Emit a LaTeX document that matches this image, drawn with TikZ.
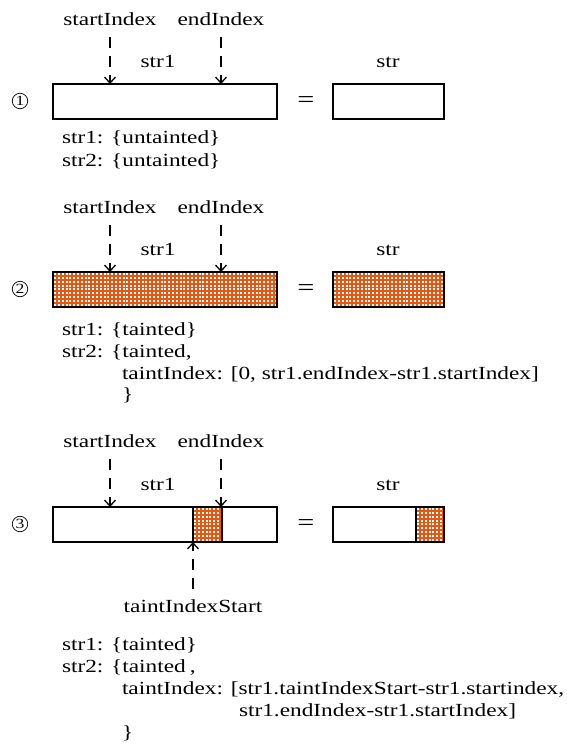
\documentclass[tikz,border=0pt]{standalone}
\usepackage{fontspec}
\setmainfont[FakeStretch=1.26]{Liberation Serif}
\usetikzlibrary{arrows.meta}
\definecolor{taintorange}{RGB}{228,88,18}

\begin{document}
\begin{tikzpicture}[x=1pt,y=-1pt,
  lbl/.style={inner sep=0pt, outer sep=0pt, font=\fontsize{18.5}{22}\selectfont},
  txt/.style={lbl, anchor=base west},
  strbox/.style={draw, line width=1.1pt, fill=white, inner sep=0pt, outer sep=0pt, minimum height=35pt},
  taint/.style={fill=taintorange, path picture={
      \foreach \i in {0,...,60}{
        \foreach \j in {0,...,9}{
          \fill[white] ([xshift=\i*3.8pt+1.1pt, yshift=-\j*3.8pt-1.1pt]path picture bounding box.north west)
            rectangle ++(2pt,-2pt);
        }
      }
    }},
  ptr/.style={line width=1.4pt, dash pattern=on 11pt off 8pt,
    -{Straight Barb[length=6pt,width=11pt,line width=1.3pt]}},
  stepnum/.style={circle, draw, line width=0.7pt, inner sep=0pt, minimum size=15.5pt,
    font=\fontsize{14}{14}\selectfont},
  eqsign/.style={inner sep=0pt, outer sep=0pt, font=\fontsize{24}{24}\selectfont}
]
\useasboundingbox (0,0) rectangle (566,747);

% ---------- case 1: untainted source ----------
\node[lbl, anchor=base] (si1) at (110,25) {startIndex};
\node[lbl, anchor=base] (ei1) at (221,25) {endIndex};
\node[lbl, anchor=base] (sa1) at (158,67) {str1};
\node[lbl, anchor=base] (sb1) at (388,67) {str};
\node[strbox, minimum width=224pt] (a1) at (165,101.5) {};
\node[strbox, minimum width=111pt] (b1) at (388.5,101.5) {};
\node[eqsign] (eq1) at (306,102) {=};
\node[stepnum] (n1) at (20,101) {1};
\draw[ptr, shorten <=12pt] (si1.south) -- (si1.south |- a1.north);
\draw[ptr, shorten <=12pt] (ei1.south) -- (ei1.south |- a1.north);
\node[txt] (ta1) at (62,143) {str1: \{untainted\}};
\node[txt] (tb1) at (62,166) {str2: \{untainted\}};

% ---------- case 2: fully tainted source ----------
\node[lbl, anchor=base] (si2) at (110,213) {startIndex};
\node[lbl, anchor=base] (ei2) at (221,213) {endIndex};
\node[lbl, anchor=base] (sa2) at (158,255) {str1};
\node[lbl, anchor=base] (sb2) at (388,255) {str};
\node[strbox, taint, minimum width=224pt] (a2) at (165,289.5) {};
\node[strbox, taint, minimum width=111pt] (b2) at (388.5,289.5) {};
\node[eqsign] (eq2) at (306,290) {=};
\node[stepnum] (n2) at (20,289) {2};
\draw[ptr, shorten <=12pt] (si2.south) -- (si2.south |- a2.north);
\draw[ptr, shorten <=12pt] (ei2.south) -- (ei2.south |- a2.north);
\node[txt] (ta2) at (62,335) {str1: \{tainted\}};
\node[txt] (tb2) at (62,357) {str2: \{tainted,};
\node[txt] (tc2) at (122,379) {taintIndex: [0, str1.endIndex-str1.startIndex]};
\node[txt] (td2) at (122,400) {\}};

% ---------- case 3: partly tainted source ----------
\node[lbl, anchor=base] (si3) at (110,447) {startIndex};
\node[lbl, anchor=base] (ei3) at (221,447) {endIndex};
\node[lbl, anchor=base] (sa3) at (158,490) {str1};
\node[lbl, anchor=base] (sb3) at (388,490) {str};
\node[strbox, minimum width=224pt] (a3) at (165,524.5) {};
\node[strbox, taint, minimum width=29pt] (t3) at (207.5,524.5) {};
\node[strbox, minimum width=111pt] (b3) at (388.5,524.5) {};
\node[strbox, taint, minimum width=28pt] (u3) at (430,524.5) {};
\node[eqsign] (eq3) at (306,525) {=};
\node[stepnum] (n3) at (20,524) {3};
\draw[ptr, shorten <=12pt] (si3.south) -- (si3.south |- a3.north);
\draw[ptr, shorten <=12pt] (ei3.south) -- (ei3.south |- a3.north);
\node[lbl, anchor=base] (tis) at (193,612) {taintIndexStart};
\draw[ptr, shorten <=10pt] (tis.north) -- (t3.south west);
\node[txt] (ta3) at (62,650) {str1: \{tainted\}};
\node[txt] (tb3) at (62,672) {str2: \{tainted\hspace{4pt},};
\node[txt] (tc3) at (122,694) {taintIndex: [str1.taintIndexStart-str1.startindex,};
\node[txt] (td3) at (239,716) {str1.endIndex-str1.startIndex]};
\node[txt] (te3) at (122,738) {\}};
\end{tikzpicture}
\end{document}
